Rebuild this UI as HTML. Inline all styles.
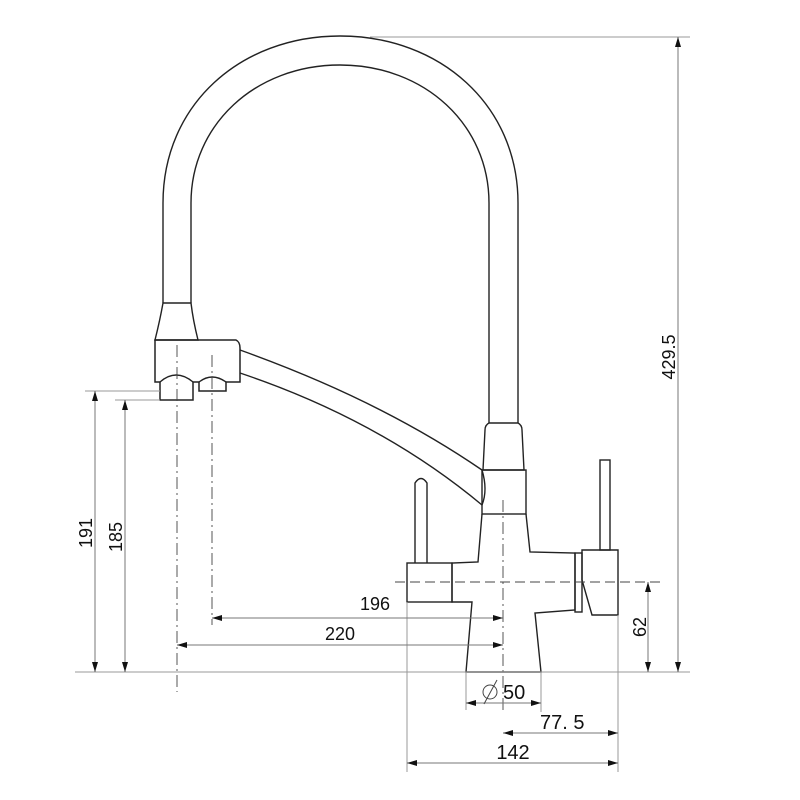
<!DOCTYPE html>
<html><head><meta charset="utf-8"><style>
html,body{margin:0;padding:0;background:#fff;}
svg{display:block;}
text{font-family:"Liberation Sans",sans-serif;fill:#111;}
</style></head><body>
<svg width="800" height="800" viewBox="0 0 800 800" xmlns="http://www.w3.org/2000/svg">
<defs>
<marker id="a" viewBox="0 0 10 6" refX="10" refY="3" markerWidth="10" markerHeight="6" orient="auto-start-reverse" markerUnits="userSpaceOnUse"><path d="M0,0 L10,3 L0,6 z" fill="#111"/></marker>
</defs>
<g fill="none" stroke="#222" stroke-width="1.4">
<path d="M163,303 L163,203 C163,105 240,36 340,36 C440,36 518,105 518,203 L518,423"/>
<path d="M191,303 L191,203 C191,125 255,65 340,65 C425,65 489,125 489,203 L489,423"/>
<path d="M163,303 L191,303 Q193,320 198,340 L155,340 Q160,320 163,303 Z"/>
<path d="M155,340 L236,340 Q240,342 240,348 L240,382 L226,382 L226,391 L199,391 L199,382 L193,382 L193,400 L160,400 L160,382 L155,382 Z" stroke-width="1.5"/>
<path d="M160,382 Q176,368 193,382"/>
<path d="M199,382 Q212,372 226,382"/>
<path d="M240,350 Q380,400 482,470"/>
<path d="M240,373 Q380,420 482,505"/>
<path d="M482,470 Q488,490 482,505"/>
<path d="M489,423 L518,423 Q522,425 522,430 L524,470 L483,470 L485,430 Q485,425 489,423 Z"/>
<rect x="482" y="470" width="44" height="44"/>
<path d="M482,514 L478,562 L452,563 L452,602 L472,602 L466,672 L541,672 L535,613 L575,610 L575,553 L530,552 L526,514"/>
<rect x="407" y="563" width="45" height="39"/>
<path d="M415,563 L415,483 Q421,474 427,483 L427,563"/>
<rect x="575" y="553" width="7" height="59"/>
<path d="M582,550 L618,550 L618,615 L592,615 L582,580 Z"/>
<rect x="600" y="460" width="10" height="90"/>
</g>
<g fill="none" stroke="#444" stroke-width="0.9" stroke-dasharray="12,4,2,4">
<line x1="177" y1="345" x2="177" y2="692"/>
<line x1="212" y1="355" x2="212" y2="625"/>
<line x1="503" y1="500" x2="503" y2="712"/>
<line x1="395" y1="582" x2="660" y2="582" stroke-dasharray="10,5"/>
</g>
<g fill="none" stroke="#999" stroke-width="1">
<line x1="75" y1="672" x2="690" y2="672"/>
<line x1="85" y1="391" x2="160" y2="391"/>
<line x1="115" y1="400" x2="160" y2="400"/>
<line x1="370" y1="37" x2="690" y2="37"/>
<line x1="466" y1="672" x2="466" y2="710"/>
<line x1="541" y1="672" x2="541" y2="712"/>
<line x1="618" y1="615" x2="618" y2="772"/>
<line x1="407" y1="602" x2="407" y2="772"/>
</g>
<g stroke="#777" stroke-width="1" fill="none">
<line x1="95" y1="391" x2="95" y2="672" marker-start="url(#a)" marker-end="url(#a)"/>
<line x1="125" y1="400" x2="125" y2="672" marker-start="url(#a)" marker-end="url(#a)"/>
<line x1="212" y1="618" x2="503" y2="618" marker-start="url(#a)" marker-end="url(#a)"/>
<line x1="177" y1="645" x2="503" y2="645" marker-start="url(#a)" marker-end="url(#a)"/>
<line x1="648" y1="582" x2="648" y2="672" marker-start="url(#a)" marker-end="url(#a)"/>
<line x1="678" y1="37" x2="678" y2="672" marker-start="url(#a)" marker-end="url(#a)"/>
<line x1="466" y1="703" x2="541" y2="703" marker-start="url(#a)" marker-end="url(#a)"/>
<line x1="503" y1="733" x2="618" y2="733" marker-start="url(#a)" marker-end="url(#a)"/>
<line x1="407" y1="763" x2="618" y2="763" marker-start="url(#a)" marker-end="url(#a)"/>
</g>
<g font-size="18">
<text x="375" y="610" text-anchor="middle">196</text>
<text x="340" y="640" text-anchor="middle">220</text>
<text transform="translate(92,533) rotate(-90)" text-anchor="middle">191</text>
<text transform="translate(122,537) rotate(-90)" text-anchor="middle">185</text>
<text transform="translate(646,627) rotate(-90)" text-anchor="middle">62</text>
<text transform="translate(675,357) rotate(-90)" text-anchor="middle" font-family="Liberation Mono">429.5</text>
<text x="503" y="699" font-family="Liberation Serif" font-size="20">50</text>
<text x="540" y="729" font-family="Liberation Serif" font-size="20">77. 5</text>
<text x="513" y="759" text-anchor="middle" font-family="Liberation Serif" font-size="20">142</text>
</g>
<circle cx="490" cy="692" r="7" fill="none" stroke="#444" stroke-width="1"/>
<line x1="484" y1="704" x2="497" y2="680" stroke="#444" stroke-width="1"/>
</svg>
</body></html>
